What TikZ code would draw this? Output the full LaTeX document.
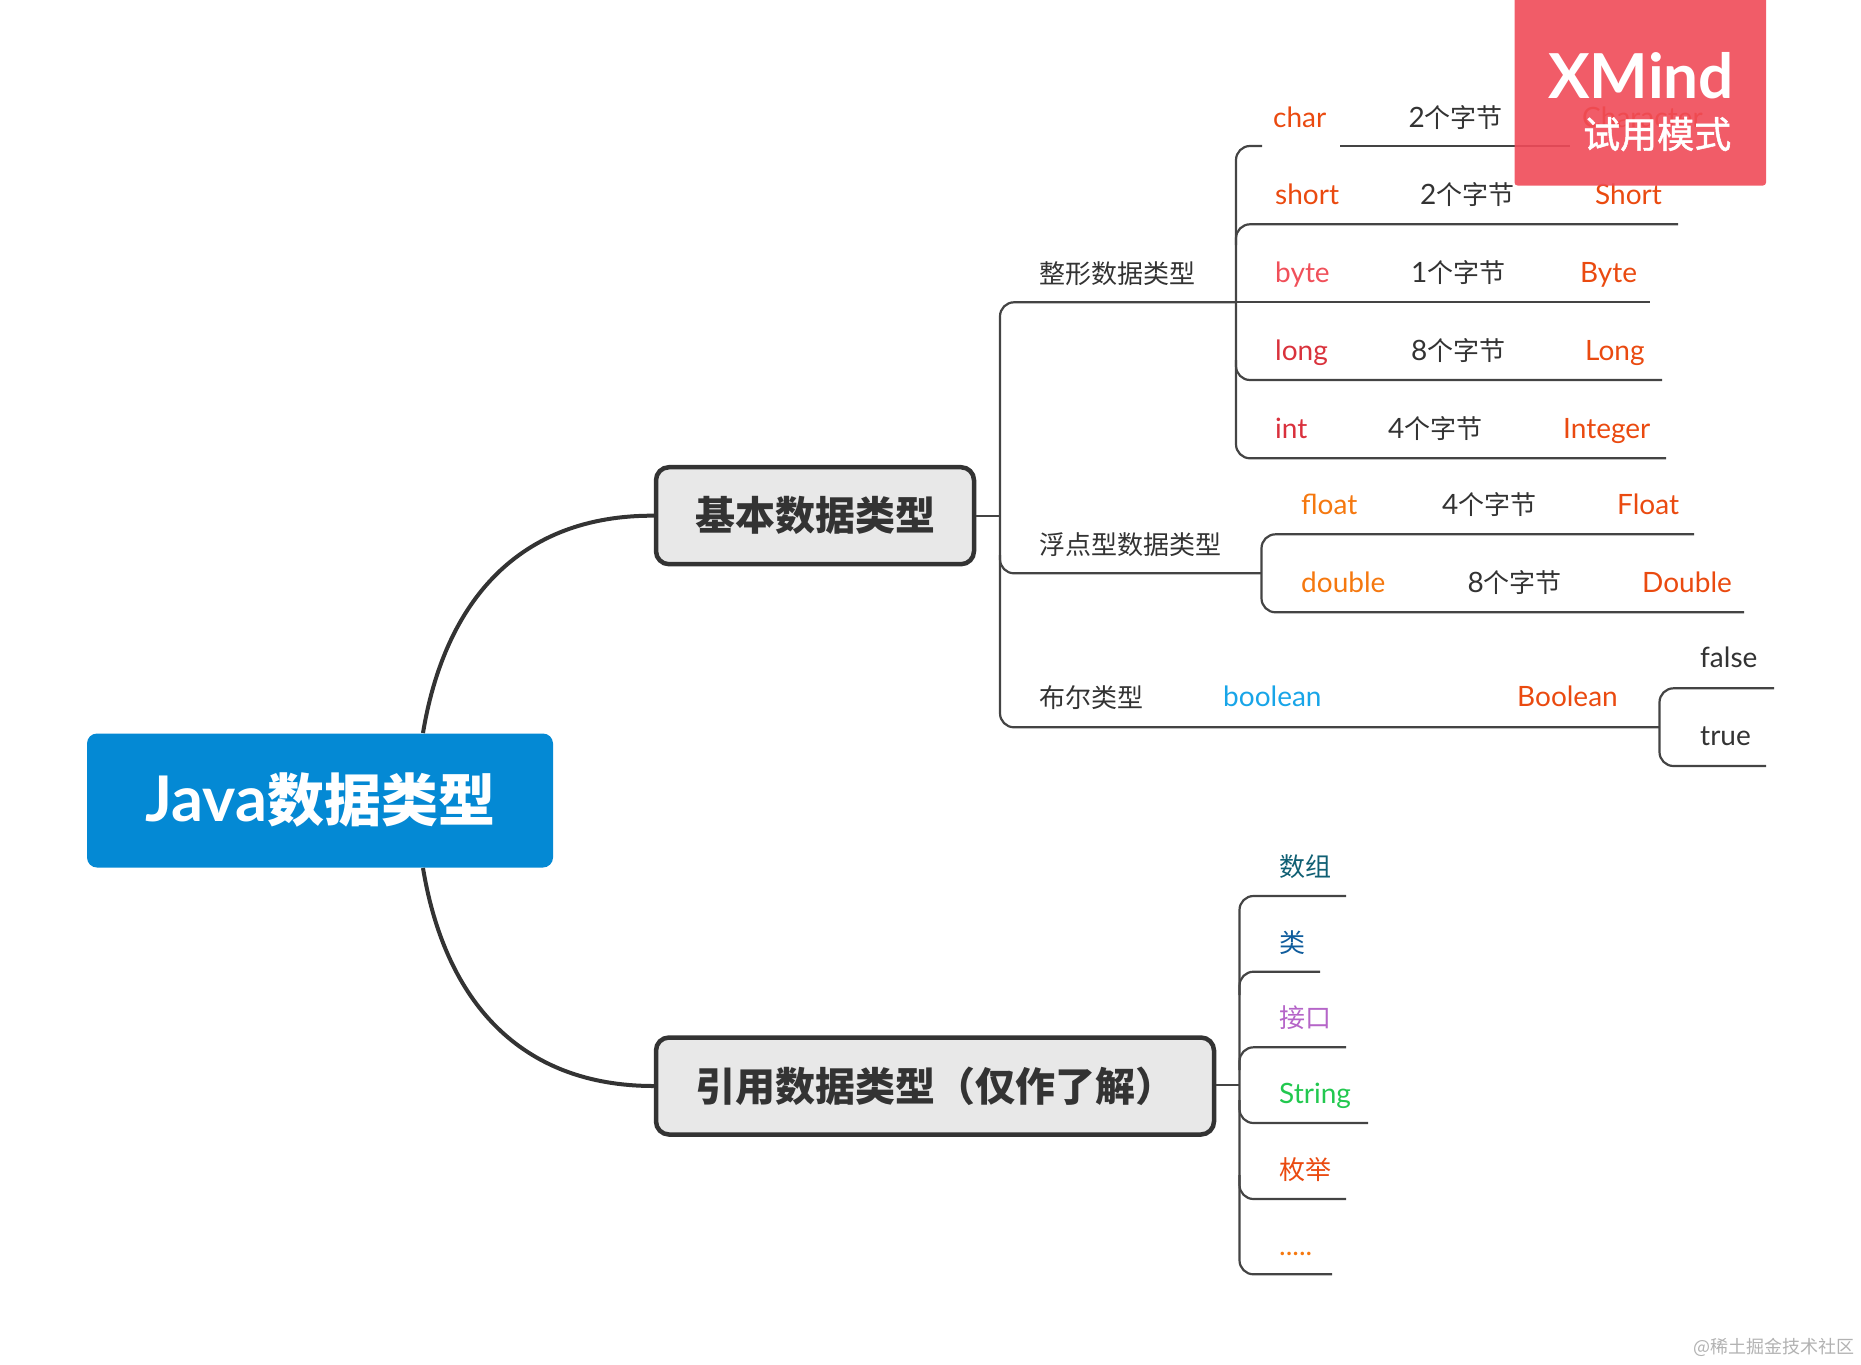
\documentclass[tikz,border=0pt]{standalone}
\usepackage{fontspec}
\setmainfont{Lato}
\newfontfamily\cjk{Noto Sans CJK SC}
\newfontfamily\cjkm[FakeBold=1.3]{Noto Sans CJK SC}
\newcommand{\zh}[1]{{\fontsize{26}{30}\selectfont\cjk #1}}
\definecolor{ink}{HTML}{333333}
\definecolor{rul}{HTML}{444444}
\definecolor{ored}{HTML}{EA4A10}
\definecolor{oor}{HTML}{F5780F}
\tikzset{
  lab/.style={anchor=base west,inner sep=0pt,font=\fontsize{28}{30}\selectfont,text=ink},
  topic/.style={draw=ink,line width=4.5pt,fill=black!9,rounded corners=13pt,inner sep=0pt,text=ink,minimum height=97pt,font=\fontsize{40}{46}\selectfont\bfseries\cjk},
  trunk/.style={draw=ink,line width=4pt},
  branch/.style={draw=rul,line width=2.2pt,rounded corners=14pt},
}
\begin{document}
\begin{tikzpicture}[x=1pt,y=-1pt]
\useasboundingbox (0,0) rectangle (1861,1365);
% central and main topics
\node[fill={rgb,255:red,4;green,137;blue,212},rounded corners=10pt,inner sep=0pt,minimum width=466pt,minimum height=134pt] (java) at (320,800.5) {};
\node[text=white,inner sep=0pt,font=\fontsize{63}{70}\selectfont\bfseries] (javat) at (320.5,800) {Java{\fontsize{57}{64}\selectfont\cjk 数据类型}};
\node[topic,minimum width=318pt] (basic) at (815,515.7) {基本数据类型};
\node[topic,minimum width=558pt] (ref) at (935,1086) {引用数据类型（仅作了解）};
\coordinate (jt) at (423,733);
\coordinate (jb) at (423,868);
\draw[trunk] (jt) .. controls (445,600) and (520,515) .. (basic.west);
\draw[trunk] (jb) .. controls (445,1001) and (520,1086) .. (ref.west);
% spine 2
\coordinate (s2a) at (1000,515.7);
\coordinate (s2top) at (1000,302.3);
\coordinate (s2mid) at (1000,573.3);
\coordinate (s2bot) at (1000,727.3);
\coordinate (s1) at (1236,302.3);
\coordinate (s3) at (1261.5,573.3);
\coordinate (s4) at (1659.5,727.3);
\draw[branch] (basic.east) -- (s2a);
\draw[branch] (s1) -- (s2top) -- (s2bot) -- (s4);
\draw[branch] (1000,555) -- (s2mid) -- (s3);
% integer group
\coordinate (c0) at (1262,146);
\coordinate (c0a) at (1340,146);
\coordinate (c0b) at (1570,146);
\coordinate (c1) at (1678,224.3);
\coordinate (c2) at (1650,302.3);
\coordinate (c3) at (1662,380);
\coordinate (c4) at (1666,458.3);
\draw[branch] (c0) -- (1236,146) -- (1236,458.3) -- (c4);
\draw[branch] (c0a) -- (c0b);
\draw[branch] (1236,245) -- (1236,224.3) -- (c1);
\draw[branch] (s1) -- (c2);
\draw[branch] (1236,360) -- (1236,380) -- (c3);
% float group
\coordinate (f0) at (1694,534.3);
\coordinate (f1) at (1744,612.3);
\draw[branch] (f0) -- (1261.5,534.3) -- (1261.5,612.3) -- (f1);
% boolean group
\coordinate (b0) at (1774,688.3);
\coordinate (b1) at (1766,766);
\draw[branch] (b0) -- (1659.5,688.3) -- (1659.5,766) -- (b1);
% reference group
\coordinate (r0) at (1346,896);
\coordinate (r1) at (1320,971.7);
\coordinate (r2) at (1346,1047.3);
\coordinate (r3) at (1368,1123);
\coordinate (r4) at (1346,1199);
\coordinate (r5) at (1332,1274.3);
\coordinate (rs) at (1239.5,1085.3);
\draw[branch] (ref.east |- rs) -- (rs);
\draw[branch] (r0) -- (1239.5,896) -- (1239.5,1274.3) -- (r5);
\draw[branch] (1239.5,995) -- (1239.5,971.7) -- (r1);
\draw[branch] (1239.5,1070) -- (1239.5,1047.3) -- (r2);
\draw[branch] (1239.5,1100) -- (1239.5,1123) -- (r3);
\draw[branch] (1239.5,1175) -- (1239.5,1199) -- (r4);
% labels row by row
\node[lab,text=ored] (l1) at (1273,127) {char};
\node[lab] (l2) at (1408.5,127) {2\zh{个字节}};
\node[lab,text=ored] (l3) at (1582,127) {Character};
\node[lab,text=ored] (l4) at (1275,204) {short};
\node[lab] (l5) at (1420,204) {2\zh{个字节}};
\node[lab,text=ored] (l6) at (1595,204) {Short};
\node[lab,text={rgb,255:red,240;green,80;blue,90}] (l7) at (1275,282) {byte};
\node[lab] (l8) at (1411,282) {1\zh{个字节}};
\node[lab,text=ored] (l9) at (1580,282) {Byte};
\node[lab,text={rgb,255:red,217;green,50;blue,60}] (l10) at (1275,360) {long};
\node[lab] (l11) at (1411,360) {8\zh{个字节}};
\node[lab,text=ored] (l12) at (1585,360) {Long};
\node[lab,text={rgb,255:red,217;green,48;blue,60}] (l13) at (1275,438) {int};
\node[lab] (l14) at (1388,438) {4\zh{个字节}};
\node[lab,text=ored] (l15) at (1563,438) {Integer};
\node[lab,text=oor] (l16) at (1301,514) {float};
\node[lab] (l17) at (1442,514) {4\zh{个字节}};
\node[lab,text=ored] (l18) at (1617,514) {Float};
\node[lab,text=oor] (l19) at (1301,592) {double};
\node[lab] (l20) at (1467.5,592) {8\zh{个字节}};
\node[lab,text=ored] (l21) at (1642,592) {Double};
\node[lab] (l22) at (1700,667) {false};
\node[lab] (l23) at (1700,745) {true};
\node[lab,text={rgb,255:red,24;green,165;blue,232}] (l24) at (1223,706) {boolean};
\node[lab,text=ored] (l25) at (1517,706) {Boolean};
\node[lab] (l26) at (1039,283) {\zh{整形数据类型}};
\node[lab] (l27) at (1039,554) {\zh{浮点型数据类型}};
\node[lab] (l28) at (1039,707) {\zh{布尔类型}};
\node[lab,text={rgb,255:red,15;green,95;blue,115}] (l29) at (1279,876) {\zh{数组}};
\node[lab,text={rgb,255:red,15;green,92;blue,156}] (l30) at (1279,952) {\zh{类}};
\node[lab,text={rgb,255:red,181;green,101;blue,200}] (l31) at (1279,1027) {\zh{接口}};
\node[lab,text={rgb,255:red,34;green,200;blue,79}] (l32) at (1279,1103) {String};
\node[lab,text=ored] (l33) at (1279,1179) {\zh{枚举}};
\node[lab,text=oor] (l34) at (1279,1255) {.....};
% watermark
\node[anchor=east,inner sep=0pt,text=black!30,font=\fontsize{18}{22}\selectfont\cjk] (wm) at (1855,1347) {@稀土掘金技术社区};
% trial badge
\path[fill={rgb,255:red,240;green,74;blue,88},fill opacity=.9,rounded corners=3pt] (1514.5,-10) rectangle (1766,185.5);
\node[anchor=base west,inner sep=0pt,text=white,font=\fontsize{62}{66}\selectfont\bfseries] (xm) at (1548,98) {XMind};
\node[anchor=base west,inner sep=0pt,text=white,font=\fontsize{37}{42}\selectfont\cjkm] (xt) at (1583,148) {试用模式};
\end{tikzpicture}
\end{document}
